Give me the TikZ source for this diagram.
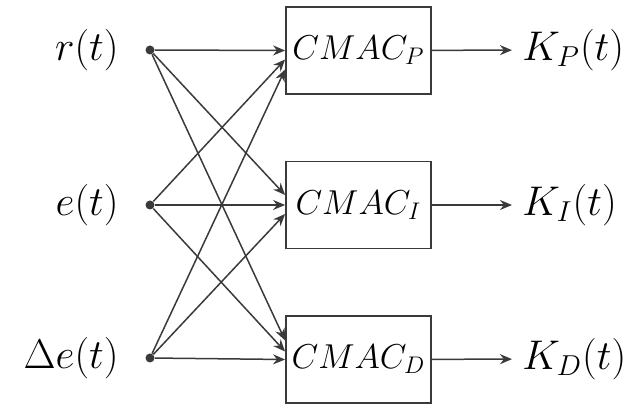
\documentclass[tikz,border=0pt]{standalone}
\usepackage{tikz}
\usetikzlibrary{positioning,arrows.meta,calc}
\definecolor{cLine}{HTML}{3A3A3A}
\tikzset{
  node-cmac/.style={draw=cLine,line width=0.9pt,minimum width=72.5pt,
    minimum height=43.5pt,inner sep=0pt,font=\fontsize{16.5}{20}\selectfont},
  node-dot/.style={circle,fill=cLine,inner sep=0pt,minimum size=4.5pt},
  node-in/.style={anchor=east,font=\fontsize{22}{26}\selectfont,inner sep=0pt},
  node-out/.style={anchor=west,font=\huge,inner sep=0pt,inner xsep=5pt},
  arrow/.style={-{Stealth[length=6pt,width=5pt]},line width=0.75pt,draw=cLine},
}
\begin{document}
\begin{tikzpicture}[x=0.5pt,y=-0.5pt]
  \useasboundingbox (0,0) rectangle (633,405);
  % inputs
  \node[node-dot] (r) at (150,50) {};
  \node[node-dot] (e) at (150,205) {};
  \node[node-dot] (de) at (150,358) {};
  \node[node-in] (lr) at (119,50) {$r(t)$};
  \node[node-in] (le) at (119,205) {$e(t)$};
  \node[node-in] (lde) at (119,358) {$\Delta e(t)$};
  % cmac blocks
  \node[node-cmac] (cp) at (358.5,50.5) {$CMAC_P$};
  \node[node-cmac] (ci) at (358.5,205) {$CMAC_I$};
  \node[node-cmac] (cd) at (358.5,359.5) {$CMAC_D$};
  % outputs
  \node[node-out] (kp) at (512,50) {$K_P(t)$};
  \node[node-out] (ki) at (512,205) {$K_I(t)$};
  \node[node-out] (kd) at (512,359) {$K_D(t)$};
  % fan-in
  \draw[arrow] (r) -- (cp.west);
  \draw[arrow] (e) -- ($(cp.west)+(0,9)$);
  \draw[arrow] (de) -- ($(cp.west)+(0,19)$);
  \draw[arrow] (r) -- ($(ci.west)+(0,-10)$);
  \draw[arrow] (e) -- (ci.west);
  \draw[arrow] (de) -- ($(ci.west)+(0,9)$);
  \draw[arrow] (r) -- ($(cd.west)+(0,-19)$);
  \draw[arrow] (e) -- ($(cd.west)+(0,-8)$);
  \draw[arrow] (de) -- (cd.west);
  % fan-out
  \draw[arrow] (cp) -- (kp);
  \draw[arrow] (ci) -- (ki);
  \draw[arrow] (cd) -- (kd);
\end{tikzpicture}
\end{document}
